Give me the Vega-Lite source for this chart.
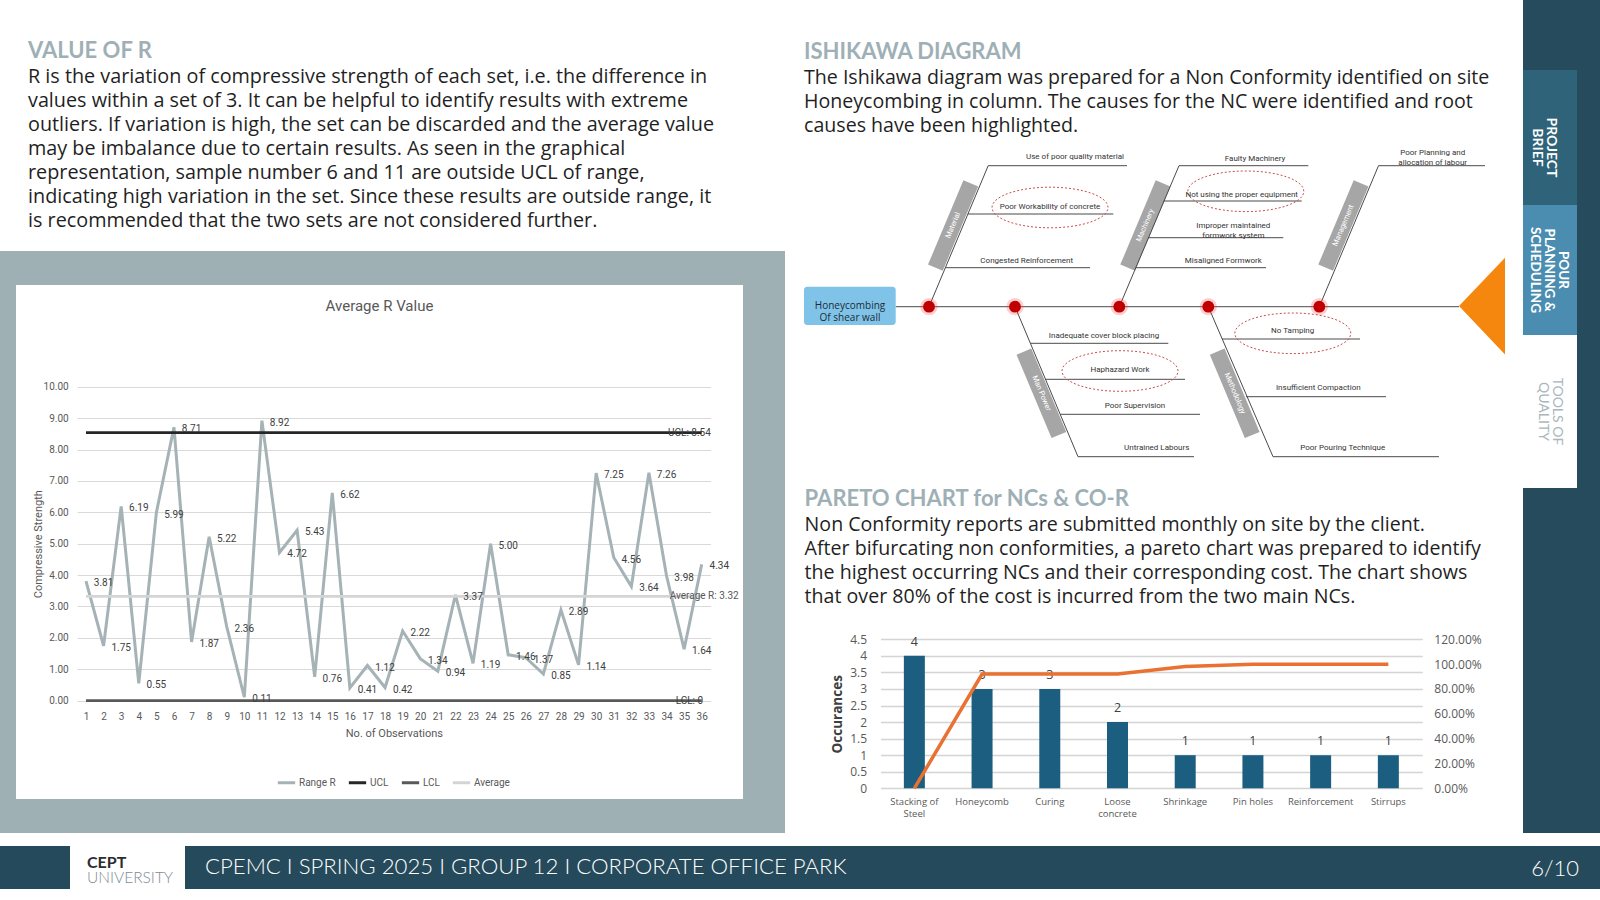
{
  "$schema": "https://vega.github.io/schema/vega-lite/v6.json",
  "padding": 0,
  "background": "#ffffff",
  "spacing": 0,
  "config": {"view": {"stroke": null}, "concat": {"spacing": 0}, "font": "Lato", "axisX": {"labelOverlap": false}, "axisY": {"labelOverlap": false}},
  "datasets": {
    "obs": [{"obs":1,"r":3.81},{"obs":2,"r":1.75},{"obs":3,"r":6.19},{"obs":4,"r":0.55},{"obs":5,"r":5.99},{"obs":6,"r":8.71},{"obs":7,"r":1.87},{"obs":8,"r":5.22},{"obs":9,"r":2.36},{"obs":10,"r":0.11},{"obs":11,"r":8.92},{"obs":12,"r":4.72},{"obs":13,"r":5.43},{"obs":14,"r":0.76},{"obs":15,"r":6.62},{"obs":16,"r":0.41},{"obs":17,"r":1.12},{"obs":18,"r":0.42},{"obs":19,"r":2.22},{"obs":20,"r":1.34},{"obs":21,"r":0.94},{"obs":22,"r":3.37},{"obs":23,"r":1.19},{"obs":24,"r":5.00},{"obs":25,"r":1.46},{"obs":26,"r":1.37},{"obs":27,"r":0.85},{"obs":28,"r":2.89},{"obs":29,"r":1.14},{"obs":30,"r":7.25},{"obs":31,"r":4.56},{"obs":32,"r":3.64},{"obs":33,"r":7.26},{"obs":34,"r":3.98},{"obs":35,"r":1.64},{"obs":36,"r":4.34}],
    "limits": [{"series":"UCL","value":8.54,"label":"UCL: 8.54"},{"series":"LCL","value":0,"label":"LCL: 0"},{"series":"Average","value":3.32,"label":"Average R: 3.32"}],
    "pareto": [{"cat":"Stacking of Steel","count":4,"cum":0},{"cat":"Honeycomb","count":3,"cum":0.92},{"cat":"Curing","count":3,"cum":0.92},{"cat":"Loose concrete","count":2,"cum":0.92},{"cat":"Shrinkage","count":1,"cum":0.98},{"cat":"Pin holes","count":1,"cum":1.0},{"cat":"Reinforcement","count":1,"cum":1.0},{"cat":"Stirrups","count":1,"cum":1.0}],
    "ishLines": [
      {"part":"spine","x":91.7,"y":0,"x2":655,"y2":0},
      {"part":"Material","x":125,"y":0,"x2":184.2,"y2":141},
      {"part":"Man Power","x":211,"y":0,"x2":274,"y2":-150},
      {"part":"Machinery","x":315.3,"y":0,"x2":375,"y2":141},
      {"part":"Methodology","x":404.3,"y":0,"x2":469,"y2":-150},
      {"part":"Management","x":515.3,"y":0,"x2":574.5,"y2":141},
      {"part":"Use of poor quality material","x":184.2,"y":141,"x2":323,"y2":141},
      {"part":"Poor Workability of concrete","x":163.9,"y":92.7,"x2":309.3,"y2":92.7},
      {"part":"Congested Reinforcement","x":141.4,"y":39,"x2":286,"y2":39},
      {"part":"Faulty Machinery","x":375,"y":141,"x2":504.3,"y2":141},
      {"part":"Not using the proper equipment","x":359.7,"y":105.7,"x2":497.7,"y2":105.7},
      {"part":"Improper maintained formwork system","x":344.3,"y":69,"x2":479.3,"y2":69},
      {"part":"Misaligned Formwork","x":331.7,"y":39,"x2":462,"y2":39},
      {"part":"Poor Planning and allocation of labour","x":574.5,"y":141,"x2":681,"y2":141},
      {"part":"Inadequate cover block placing","x":226.4,"y":-36.6,"x2":364.3,"y2":-36.6},
      {"part":"Haphazard Work","x":241.5,"y":-72.6,"x2":381,"y2":-72.6},
      {"part":"Poor Supervision","x":256.2,"y":-107.6,"x2":396,"y2":-107.6},
      {"part":"Untrained Labours","x":274,"y":-150,"x2":390,"y2":-150},
      {"part":"No Tamping","x":417.9,"y":-32.3,"x2":556,"y2":-32.3},
      {"part":"Insufficient Compaction","x":442.1,"y":-90,"x2":582,"y2":-90},
      {"part":"Poor Pouring Technique","x":469,"y":-150,"x2":635,"y2":-150}
    ],
    "ishCat": [
      {"cat":"Material","side":"up","x":131.4,"y":39,"x2":166.8,"y2":123.4,"tx":149.1,"ty":81.2},
      {"cat":"Machinery","side":"up","x":323.7,"y":39,"x2":359.1,"y2":123.4,"tx":341.4,"ty":81.2},
      {"cat":"Management","side":"up","x":521.7,"y":39,"x2":557.1,"y2":123.4,"tx":539.4,"ty":81.2},
      {"cat":"Man Power","side":"down","x":219.9,"y":-45,"x2":254.9,"y2":-128.3,"tx":237.4,"ty":-86.7},
      {"cat":"Methodology","side":"down","x":413.2,"y":-45,"x2":448.2,"y2":-128.3,"tx":430.7,"ty":-86.7}
    ],
    "ishCause": [
      {"cause":"Use of poor quality material","x":271,"y":149.4},
      {"cause":"Poor Workability of concrete","x":246,"y":99.4},
      {"cause":"Congested Reinforcement","x":222.7,"y":46},
      {"cause":"Faulty Machinery","x":451,"y":147.4},
      {"cause":"Not using the proper equipment","x":437.7,"y":111.7},
      {"cause":"Improper maintained\nformwork system","x":429.3,"y":80.7},
      {"cause":"Misaligned Formwork","x":419.3,"y":45.7},
      {"cause":"Poor Planning and\nallocation of labour","x":628.7,"y":153.4},
      {"cause":"Inadequate cover block placing","x":300,"y":-29},
      {"cause":"Haphazard Work","x":316,"y":-63.3},
      {"cause":"Poor Supervision","x":331,"y":-99},
      {"cause":"Untrained Labours","x":352.7,"y":-141.6},
      {"cause":"No Tamping","x":488.7,"y":-24.3},
      {"cause":"Insufficient Compaction","x":514.3,"y":-81.6},
      {"cause":"Poor Pouring Technique","x":538.7,"y":-141.6}
    ],
    "ishRoot": [
      {"cause":"Poor Workability of concrete","x":246,"y":99.2},
      {"cause":"Not using the proper equipment","x":441.8,"y":115.4},
      {"cause":"Haphazard Work","x":316,"y":-64.3},
      {"cause":"No Tamping","x":488.8,"y":-26.6}
    ],
    "ishDots": [{"bone":"Material","x":125},{"bone":"Man Power","x":211},{"bone":"Machinery","x":315.3},{"bone":"Methodology","x":404.3},{"bone":"Management","x":515.3}],
    "ishHead": [{"label":"Honeycombing\nOf shear wall","x":0,"x2":91.7,"y":20,"y2":-18.3,"tx":46,"ty":0.8}],
    "ishArrow": [{"effect":"head","x":678,"y":0.6}]
  },
  "vconcat": [
    {
      "spacing": 0,
      "hconcat": [
        {
          "spacing": 0,
          "vconcat": [
            {
              "width": 785, "height": 251,
              "data": {"values": []}, "mark": "point",
              "title": {
                "text": "VALUE OF R",
                "subtitle": [
                  "R  is the variation of compressive strength of each set, i.e. the difference in",
                  "values within a set of 3. It can be helpful to identify results with extreme",
                  "outliers. If variation is high, the set can be discarded and the average value",
                  "may be imbalance due to certain results. As seen in the graphical",
                  "representation, sample number 6 and 11 are outside UCL of range,",
                  "indicating high variation in the set. Since these results are outside range, it",
                  "is recommended that the two sets are not considered further."
                ],
                "orient": "bottom", "anchor": "start", "frame": "group", "offset": -210.4, "dx": 28,
                "font": "Lato", "fontSize": 22, "fontWeight": "bold", "color": "#9eb0b6",
                "subtitleFont": "Open Sans", "subtitleFontSize": 19.8, "subtitleColor": "#1f1f1f", "subtitleLineHeight": 24, "subtitlePadding": 4.8
              }
            },
            {"width": 785, "height": 34, "view": {"fill": "#9fb0b5", "stroke": null}, "data": {"values": []}, "mark": "point"},
            {
              "spacing": 0,
              "hconcat": [
                {"width": 16, "height": 514, "view": {"fill": "#9fb0b5", "stroke": null}, "data": {"values": []}, "mark": "point"},
                {
                  "width": 727, "height": 514,
                  "view": {"fill": "#ffffff", "stroke": null},
                  "title": {"text": "Average R Value", "orient": "bottom", "anchor": "middle", "frame": "group", "offset": -500.3, "font": "Roboto", "fontSize": 15, "fontWeight": "normal", "color": "#595959"},
                  "layer": [
                    {
                      "data": {"name": "obs"},
                      "mark": {"type": "line", "strokeWidth": 3},
                      "encoding": {
                        "x": {"field": "obs", "type": "quantitative",
                          "scale": {"domain": [0.5, 36.5], "range": [61.2, 694.5], "nice": false, "zero": false},
                          "axis": {"values": [1,2,3,4,5,6,7,8,9,10,11,12,13,14,15,16,17,18,19,20,21,22,23,24,25,26,27,28,29,30,31,32,33,34,35,36], "tickCount": 100,
                            "format": "d", "labelAngle": 0, "offset": -98.3, "domain": false, "ticks": false, "grid": false, "labelPadding": 11, "labelOverlap": false,
                            "labelFont": "Roboto", "labelFontSize": 10, "labelColor": "#595959",
                            "title": "No. of Observations", "titleFont": "Roboto", "titleFontSize": 11, "titleFontWeight": "normal", "titleColor": "#595959", "titleY": 27}},
                        "y": {"field": "r", "type": "quantitative",
                          "scale": {"domain": [0, 10], "range": [415.7, 101.7], "nice": false, "zero": false},
                          "axis": {"values": [0,1,2,3,4,5,6,7,8,9,10], "tickCount": 100, "format": ".2f", "offset": -61.2, "domain": false, "ticks": false, "labelPadding": 9,
                            "labelFont": "Roboto", "labelFontSize": 10, "labelColor": "#595959",
                            "grid": true, "gridColor": "#d9d9d9", "gridWidth": 1,
                            "title": "Compressive Strength", "titleFont": "Roboto", "titleFontSize": 11, "titleFontWeight": "normal", "titleColor": "#595959", "titleX": -39, "titleBaseline": "middle"}},
                        "color": {"datum": "Range R", "type": "nominal",
                          "scale": {"domain": ["Range R", "UCL", "LCL", "Average"], "range": ["#a5b2b6", "#262626", "#595959", "#d4d4d4"]},
                          "legend": {"orient": "none", "legendX": 276, "legendY": 772, "direction": "horizontal", "title": null, "symbolType": "stroke", "symbolStrokeWidth": 3, "symbolSize": 300,
                            "labelFont": "Roboto", "labelFontSize": 10, "labelColor": "#595959", "columnPadding": 6, "labelOffset": 2}}
                      }
                    },
                    {
                      "data": {"name": "limits"},
                      "mark": {"type": "rule", "strokeWidth": 2.8},
                      "encoding": {
                        "x": {"datum": 1, "type": "quantitative"},
                        "x2": {"datum": 36},
                        "y": {"field": "value", "type": "quantitative"},
                        "color": {"field": "series", "type": "nominal",
                          "legend": {"orient": "none", "legendX": 276, "legendY": 772, "direction": "horizontal", "title": null, "symbolType": "stroke", "symbolStrokeWidth": 3, "symbolSize": 300,
                            "labelFont": "Roboto", "labelFontSize": 10, "labelColor": "#595959", "columnPadding": 6, "labelOffset": 2}}
                      }
                    },
                    {
                      "data": {"name": "obs"},
                      "mark": {"type": "text", "dx": 17.6, "dy": 2, "align": "center", "baseline": "middle", "font": "Roboto", "fontSize": 10, "color": "#404040"},
                      "encoding": {
                        "x": {"field": "obs", "type": "quantitative"},
                        "y": {"field": "r", "type": "quantitative"},
                        "text": {"field": "r", "type": "quantitative", "format": ".2f"}
                      }
                    },
                    {
                      "data": {"name": "limits"},
                      "transform": [{"filter": "datum.series != 'Average'"}],
                      "mark": {"type": "text", "align": "center", "baseline": "middle", "font": "Roboto", "fontSize": 10, "color": "#404040"},
                      "encoding": {
                        "x": {"datum": 35.3, "type": "quantitative"},
                        "y": {"field": "value", "type": "quantitative"},
                        "text": {"field": "label"}
                      }
                    },
                    {
                      "data": {"name": "limits"},
                      "transform": [{"filter": "datum.series == 'Average'"}],
                      "mark": {"type": "text", "align": "right", "baseline": "middle", "font": "Roboto", "fontSize": 10, "color": "#595959"},
                      "encoding": {
                        "x": {"datum": 38.1, "type": "quantitative"},
                        "y": {"field": "value", "type": "quantitative"},
                        "text": {"field": "label"}
                      }
                    }
                  ]
                },
                {"width": 42, "height": 514, "view": {"fill": "#9fb0b5", "stroke": null}, "data": {"values": []}, "mark": "point"}
              ]
            },
            {"width": 785, "height": 34, "view": {"fill": "#9fb0b5", "stroke": null}, "data": {"values": []}, "mark": "point"}
          ]
        },
        {
          "spacing": 0,
          "vconcat": [
            {
              "width": 738, "height": 475,
              "title": {
                "text": "ISHIKAWA DIAGRAM",
                "subtitle": [
                  "The Ishikawa diagram was prepared for a Non Conformity identified on site",
                  "Honeycombing in column. The causes for the NC were identified and root",
                  "causes have been highlighted."
                ],
                "orient": "bottom", "anchor": "start", "frame": "group", "offset": -433.4, "dx": 19,
                "font": "Lato", "fontSize": 22, "fontWeight": "bold", "color": "#9eb0b6",
                "subtitleFont": "Open Sans", "subtitleFontSize": 19.6, "subtitleColor": "#1f1f1f", "subtitleLineHeight": 24, "subtitlePadding": 4.9
              },
              "layer": [
                {
                  "data": {"name": "ishCat"},
                  "mark": {"type": "rule", "strokeWidth": 16, "strokeCap": "butt", "color": "#a6a6a6"},
                  "encoding": {
                    "x": {"field": "x", "type": "quantitative", "scale": {"domain": [-19, 719], "nice": false, "zero": false}, "axis": null},
                    "y": {"field": "y", "type": "quantitative", "scale": {"domain": [-168.3, 306.7], "nice": false, "zero": false}, "axis": null},
                    "x2": {"field": "x2"},
                    "y2": {"field": "y2"}
                  }
                },
                {
                  "data": {"name": "ishLines"},
                  "mark": {"type": "rule", "strokeWidth": 1, "color": "#4a4a4a"},
                  "encoding": {
                    "x": {"field": "x", "type": "quantitative"},
                    "y": {"field": "y", "type": "quantitative"},
                    "x2": {"field": "x2"},
                    "y2": {"field": "y2"}
                  }
                },
                {
                  "data": {"name": "ishRoot"},
                  "mark": {"type": "point", "shape": "M -1 0 A 1 0.35 0 1 1 1 0 A 1 0.35 0 1 1 -1 0 Z", "size": 13456, "filled": false, "stroke": "#c9504e", "strokeDash": [2, 2], "strokeWidth": 1, "opacity": 1},
                  "encoding": {
                    "x": {"field": "x", "type": "quantitative"},
                    "y": {"field": "y", "type": "quantitative"}
                  }
                },
                {
                  "data": {"name": "ishCause"},
                  "mark": {"type": "text", "font": "Roboto", "fontSize": 8, "color": "#333333", "lineBreak": "\n", "lineHeight": 10, "baseline": "middle"},
                  "encoding": {
                    "x": {"field": "x", "type": "quantitative"},
                    "y": {"field": "y", "type": "quantitative"},
                    "text": {"field": "cause"}
                  }
                },
                {
                  "data": {"name": "ishCat"},
                  "transform": [{"filter": "datum.side == 'up'"}],
                  "mark": {"type": "text", "angle": 292.8, "font": "Roboto", "fontSize": 7.5, "color": "#ffffff", "baseline": "middle"},
                  "encoding": {
                    "x": {"field": "tx", "type": "quantitative"},
                    "y": {"field": "ty", "type": "quantitative"},
                    "text": {"field": "cat"}
                  }
                },
                {
                  "data": {"name": "ishCat"},
                  "transform": [{"filter": "datum.side == 'down'"}],
                  "mark": {"type": "text", "angle": 67.2, "font": "Roboto", "fontSize": 7.5, "color": "#ffffff", "baseline": "middle"},
                  "encoding": {
                    "x": {"field": "tx", "type": "quantitative"},
                    "y": {"field": "ty", "type": "quantitative"},
                    "text": {"field": "cat"}
                  }
                },
                {
                  "data": {"name": "ishHead"},
                  "mark": {"type": "rect", "color": "#7fc4e8", "cornerRadius": 3},
                  "encoding": {
                    "x": {"field": "x", "type": "quantitative"},
                    "x2": {"field": "x2"},
                    "y": {"field": "y", "type": "quantitative"},
                    "y2": {"field": "y2"}
                  }
                },
                {
                  "data": {"name": "ishHead"},
                  "mark": {"type": "text", "font": "Open Sans", "fontSize": 10, "color": "#1f2a36", "lineBreak": "\n", "lineHeight": 11.7, "baseline": "middle"},
                  "encoding": {
                    "x": {"field": "tx", "type": "quantitative"},
                    "y": {"field": "ty", "type": "quantitative"},
                    "text": {"field": "label"}
                  }
                },
                {
                  "data": {"name": "ishDots"},
                  "mark": {"type": "point", "filled": true, "size": 300, "color": "#ff3b3b", "opacity": 0.25},
                  "encoding": {
                    "x": {"field": "x", "type": "quantitative"},
                    "y": {"datum": 0, "type": "quantitative"}
                  }
                },
                {
                  "data": {"name": "ishDots"},
                  "mark": {"type": "point", "filled": true, "size": 140, "color": "#c00000", "opacity": 1},
                  "encoding": {
                    "x": {"field": "x", "type": "quantitative"},
                    "y": {"datum": 0, "type": "quantitative"}
                  }
                },
                {
                  "data": {"name": "ishArrow"},
                  "mark": {"type": "point", "shape": "M -1 0 L 1 -2.1 L 1 2.1 Z", "size": 2116, "filled": true, "color": "#f5870f", "opacity": 1},
                  "encoding": {
                    "x": {"field": "x", "type": "quantitative"},
                    "y": {"field": "y", "type": "quantitative"}
                  }
                }
              ]
            },
            {
              "width": 738, "height": 358,
              "title": {
                "text": "PARETO CHART for NCs & CO-R",
                "subtitle": [
                  "Non Conformity reports are submitted monthly on site by the client.",
                  "After bifurcating non conformities, a pareto chart was prepared to identify",
                  "the highest occurring NCs and their corresponding cost. The chart shows",
                  "that over 80% of the cost is incurred from the two main NCs."
                ],
                "orient": "bottom", "anchor": "start", "frame": "group", "offset": -343.7, "dx": 19.6,
                "font": "Lato", "fontSize": 22, "fontWeight": "bold", "color": "#9eb0b6",
                "subtitleFont": "Open Sans", "subtitleFontSize": 19.6, "subtitleColor": "#1f1f1f", "subtitleLineHeight": 24, "subtitlePadding": 4.9
              },
              "layer": [
                {
                  "data": {"name": "pareto"},
                  "mark": {"type": "bar", "width": {"band": 0.31}, "color": "#1b5e7f"},
                  "encoding": {
                    "x": {"field": "cat", "type": "nominal", "sort": null,
                      "scale": {"range": [95.5, 637.2], "paddingInner": 0, "paddingOuter": 0},
                      "axis": {"orient": "bottom", "offset": -44.7, "labelAngle": 0, "domain": false, "ticks": false, "labelPadding": 8,
                        "labelFont": "Open Sans", "labelFontSize": 9.5, "labelColor": "#595959", "labelLineHeight": 12.5, "title": null,
                        "labelExpr": "datum.value == 'Stacking of Steel' ? ['Stacking of', 'Steel'] : datum.value == 'Loose concrete' ? ['Loose', 'concrete'] : datum.label"}},
                    "y": {"field": "count", "type": "quantitative",
                      "scale": {"domain": [0, 4.5], "range": [313.3, 164.3], "nice": false, "zero": false},
                      "axis": {"orient": "left", "values": [0,0.5,1,1.5,2,2.5,3,3.5,4,4.5], "tickCount": 100, "format": "~g", "offset": -95.5, "domain": false, "ticks": false, "labelPadding": 14, "labelOverlap": false,
                        "labelFont": "Open Sans", "labelFontSize": 12, "labelColor": "#595959",
                        "grid": true, "gridColor": "#d4d4d4", "gridWidth": 1.5,
                        "title": "Occurances", "titleFont": "Open Sans", "titleFontSize": 13.5, "titleFontWeight": "bold", "titleColor": "#404040", "titleX": -43, "titleBaseline": "middle"}}
                  }
                },
                {
                  "data": {"name": "pareto"},
                  "mark": {"type": "text", "dy": -14, "baseline": "middle", "font": "Open Sans", "fontSize": 12.5, "color": "#404040"},
                  "encoding": {
                    "x": {"field": "cat", "type": "nominal", "sort": null},
                    "y": {"field": "count", "type": "quantitative",
                      "scale": {"domain": [0, 4.5], "range": [313.3, 164.3], "nice": false, "zero": false}, "axis": null},
                    "text": {"field": "count", "type": "quantitative"}
                  }
                },
                {
                  "data": {"name": "pareto"},
                  "mark": {"type": "line", "color": "#e97132", "strokeWidth": 3.5, "interpolate": "linear"},
                  "encoding": {
                    "x": {"field": "cat", "type": "nominal", "sort": null},
                    "y": {"field": "cum", "type": "quantitative",
                      "scale": {"domain": [0, 1.2], "range": [313.3, 164.3], "nice": false, "zero": false},
                      "axis": {"orient": "right", "values": [0,0.2,0.4,0.6,0.8,1,1.2], "tickCount": 100, "format": ".2%", "offset": -100.8, "domain": false, "ticks": false, "grid": false, "labelPadding": 11.6, "labelOverlap": false,
                        "labelFont": "Open Sans", "labelFontSize": 12, "labelColor": "#595959", "title": null}}
                  }
                }
              ],
              "resolve": {"scale": {"y": "independent"}, "axis": {"y": "independent"}}
            }
          ]
        },
        {
          "spacing": 0,
          "vconcat": [
            {"width": 77, "height": 70, "view": {"fill": "#264b5c", "stroke": null}, "data": {"values": []}, "mark": "point"},
            {"spacing": 0, "hconcat": [
              {"width": 54, "height": 135, "view": {"fill": "#2e6379", "stroke": null}, "data": {"values": []}, "mark": "point",
               "title": {"text": ["PROJECT", "BRIEF"], "orient": "right", "anchor": "middle", "frame": "group", "offset": -47, "dx": 10, "font": "Lato", "fontSize": 14, "fontWeight": "bold", "color": "#ffffff", "lineHeight": 14}},
              {"width": 23, "height": 135, "view": {"fill": "#264b5c", "stroke": null}, "data": {"values": []}, "mark": "point"}
            ]},
            {"spacing": 0, "hconcat": [
              {"width": 54, "height": 130, "view": {"fill": "#4a8db0", "stroke": null}, "data": {"values": []}, "mark": "point",
               "title": {"text": ["POUR", "PLANNING &", "SCHEDULING"], "orient": "right", "anchor": "middle", "frame": "group", "offset": -49, "font": "Lato", "fontSize": 13.5, "fontWeight": "bold", "color": "#ffffff", "lineHeight": 14}},
              {"width": 23, "height": 130, "view": {"fill": "#264b5c", "stroke": null}, "data": {"values": []}, "mark": "point"}
            ]},
            {"spacing": 0, "hconcat": [
              {"width": 54, "height": 153, "view": {"fill": "#ffffff", "stroke": null}, "data": {"values": []}, "mark": "point",
               "title": {"text": ["TOOLS OF", "QUALITY"], "orient": "right", "anchor": "middle", "frame": "group", "offset": -41, "font": "Lato", "fontSize": 14, "fontWeight": "normal", "color": "#a9b6bc", "lineHeight": 14}},
              {"width": 23, "height": 153, "view": {"fill": "#264b5c", "stroke": null}, "data": {"values": []}, "mark": "point"}
            ]},
            {"width": 77, "height": 345, "view": {"fill": "#264b5c", "stroke": null}, "data": {"values": []}, "mark": "point"}
          ]
        }
      ]
    },
    {"width": 1600, "height": 13, "data": {"values": []}, "mark": "point"},
    {
      "spacing": 0,
      "hconcat": [
        {"width": 70, "height": 43, "view": {"fill": "#254a5b", "stroke": null}, "data": {"values": []}, "mark": "point"},
        {"width": 115, "height": 43, "view": {"fill": "#ffffff", "stroke": null}, "data": {"values": []}, "mark": "point",
         "title": {"text": "CEPT", "subtitle": "UNIVERSITY", "orient": "bottom", "anchor": "start", "frame": "group", "offset": -33.8, "dx": 17,
           "font": "Lato", "fontSize": 16, "fontWeight": "bold", "color": "#2d2d2d",
           "subtitleFont": "Lato Light, Lato", "subtitleFontSize": 15.5, "subtitleFontWeight": 300, "subtitleColor": "#7d8c96", "subtitlePadding": 0}},
        {"width": 1300, "height": 43, "view": {"fill": "#254a5b", "stroke": null}, "data": {"values": []}, "mark": "point",
         "title": {"text": "CPEMC I SPRING 2025 I GROUP 12 I CORPORATE OFFICE PARK", "orient": "bottom", "anchor": "start", "frame": "group", "offset": -33, "dx": 20,
           "font": "Lato Light, Lato", "fontSize": 22.2, "fontWeight": 300, "color": "#ffffff"}},
        {"width": 115, "height": 43, "view": {"fill": "#254a5b", "stroke": null}, "data": {"values": []}, "mark": "point",
         "title": {"text": "6/10", "orient": "bottom", "anchor": "end", "frame": "group", "offset": -30.4, "dx": -21,
           "font": "Lato Light, Lato", "fontSize": 22, "fontWeight": 300, "color": "#ffffff"}}
      ]
    },
    {"width": 1600, "height": 11, "data": {"values": []}, "mark": "point"}
  ]
}
